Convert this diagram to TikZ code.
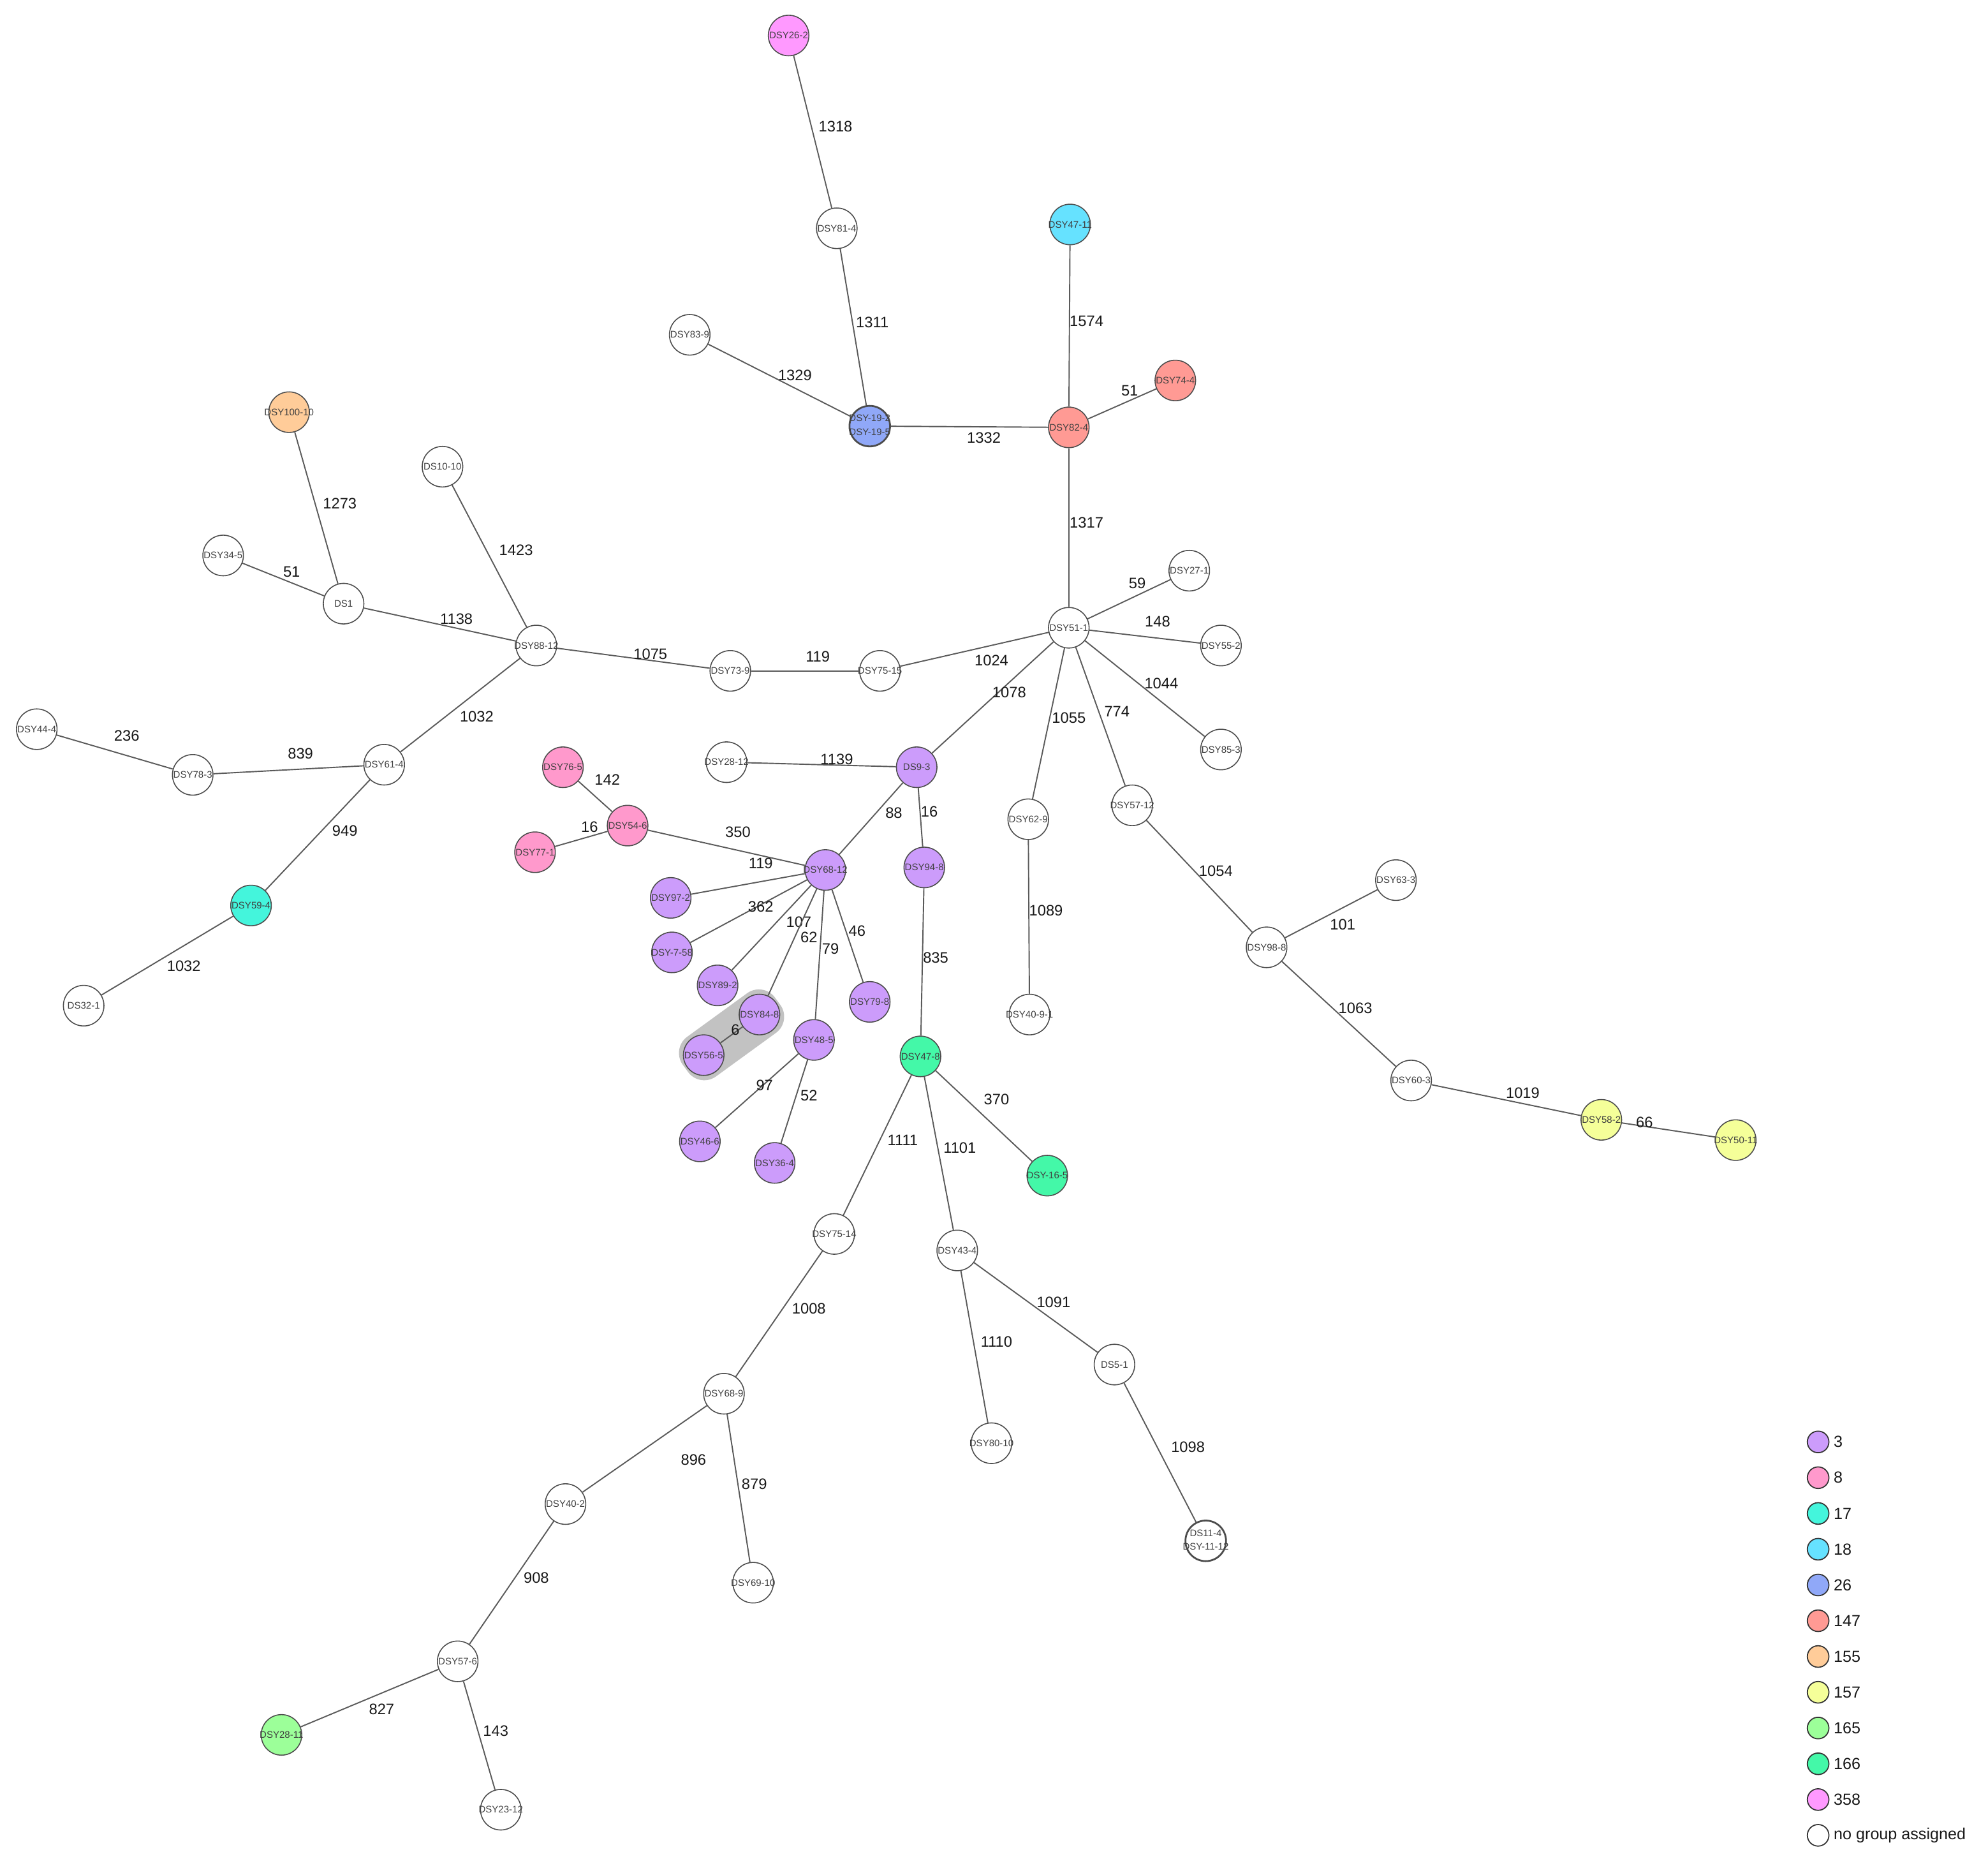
\documentclass[tikz,border=0pt]{standalone}
\usepackage{fontspec}
\setmainfont{Liberation Sans}
\pgfdeclarelayer{bg}
\pgfsetlayers{bg,main}
\definecolor{c3}{HTML}{CC9CFB}
\definecolor{c8}{HTML}{FF99CC}
\definecolor{c17}{HTML}{44F5DC}
\definecolor{c18}{HTML}{66E2FF}
\definecolor{c26}{HTML}{90A8F8}
\definecolor{c147}{HTML}{FF9A94}
\definecolor{c155}{HTML}{FFCC99}
\definecolor{c157}{HTML}{F5FF99}
\definecolor{c165}{HTML}{9CFF99}
\definecolor{c166}{HTML}{44F8A8}
\definecolor{c358}{HTML}{FF99FF}
\definecolor{cnone}{HTML}{FFFFFF}
\definecolor{lnc}{HTML}{5A5A5A}
\definecolor{bandc}{HTML}{C2C2C2}
\tikzset{
  nd/.style={circle, draw=black!70, line width=0.45pt, minimum size=0.64cm, inner sep=0pt,
    font=\fontsize{4.3}{4.9}\selectfont, text=black!75},
  elab/.style={font=\fontsize{6.8}{7}\selectfont, inner sep=0pt, text=black!90},
  edgeln/.style={draw=lnc, line width=0.55pt},
  legc/.style={circle, draw=black!80, line width=0.5pt, minimum size=0.34cm, inner sep=0pt},
  legt/.style={font=\fontsize{7.2}{8}\selectfont, inner sep=0pt, anchor=west, text=black!90},
  hiband/.style={fill=bandc, draw=none, rectangle, rounded corners=9pt, minimum width=1.8cm,
    minimum height=22pt, inner sep=0pt, rotate=36},
}
\newcommand{\twolines}[2]{\makebox[0pt]{\begin{tabular}{@{}c@{}}#1\\[1.2pt]#2\end{tabular}}}
\begin{document}
\begin{tikzpicture}[x=0.02cm, y=-0.02cm]
\useasboundingbox (0,0) rectangle (1568,1471);
% nodes
\foreach \n/\x/\y/\c/\t in {
 y262/622/28/c358/DSY26-2,
 y814/660/180/cnone/DSY81-4,
 y839/544/264/cnone/DSY83-9,
 y4711/844/177/c18/DSY47-11,
 y744/927/300/c147/DSY74-4,
 y824/843/337/c147/DSY82-4,
 y10010/228/325/c155/DSY100-10,
 s1010/349/368/cnone/DS10-10,
 y345/176/438/cnone/DSY34-5,
 s1/271/476/cnone/DS1,
 y8812/423/509/cnone/DSY88-12,
 y739/576/529/cnone/DSY73-9,
 y7515/694/529/cnone/DSY75-15,
 y511/843/495/cnone/DSY51-1,
 y271/938/450/cnone/DSY27-1,
 y552/963/509/cnone/DSY55-2,
 y853/963/591/cnone/DSY85-3,
 y444/29/575/cnone/DSY44-4,
 y783/152/611/cnone/DSY78-3,
 y614/303/603/cnone/DSY61-4,
 y594/198/714/c17/DSY59-4,
 s321/66/793/cnone/DS32-1,
 y765/444/605/c8/DSY76-5,
 y546/495/651/c8/DSY54-6,
 y771/422/672/c8/DSY77-1,
 y2812/573/601/cnone/DSY28-12,
 s93/723/605/c3/DS9-3,
 y6812/651/686/c3/DSY68-12,
 y948/729/684/c3/DSY94-8,
 y972/529/708/c3/DSY97-2,
 y758/530/751/c3/DSY-7-58,
 y892/566/777/c3/DSY89-2,
 y848/599/800/c3/DSY84-8,
 y565/555/832/c3/DSY56-5,
 y485/642/820/c3/DSY48-5,
 y798/686/790/c3/DSY79-8,
 y466/552/900/c3/DSY46-6,
 y364/611/917/c3/DSY36-4,
 y478/726/833/c166/DSY47-8,
 y165/826/927/c166/DSY-16-5,
 y629/811/646/cnone/DSY62-9,
 y4091/812/800/cnone/DSY40-9-1,
 y5712/893/635/cnone/DSY57-12,
 y633/1101/694/cnone/DSY63-3,
 y988/999/747/cnone/DSY98-8,
 y603/1113/852/cnone/DSY60-3,
 y582/1263/883/c157/DSY58-2,
 y5011/1369/899/c157/DSY50-11,
 y7514/658/973/cnone/DSY75-14,
 y434/755/986/cnone/DSY43-4,
 s51/879/1076/cnone/DS5-1,
 y8010/782/1138/cnone/DSY80-10,
 y689/571/1099/cnone/DSY68-9,
 y402/446/1186/cnone/DSY40-2,
 y6910/594/1248/cnone/DSY69-10,
 y576/361/1310/cnone/DSY57-6,
 y2811/222/1368/c165/DSY28-11,
 y2312/395/1427/cnone/DSY23-12}
 { \node[nd, fill=\c] (\n) at (\x,\y) {\makebox[0pt]{\t}}; }
\node[nd, fill=c26, line width=0.8pt] (y19) at (686,336) {\twolines{DSY-19-2}{DSY-19-5}};
\node[nd, fill=white, line width=0.8pt] (s114) at (951,1215) {\twolines{DS11-4}{DSY-11-12}};
% highlight band
\begin{pgfonlayer}{bg}
\node[hiband] (band) at (577,816) {};
\end{pgfonlayer}
% edges with labels
\foreach \a/\b/\l/\x/\y in {
 y262/y814/1318/659/100,
 y814/y19/1311/688/254,
 y839/y19/1329/627/296,
 y19/y824/1332/776/345,
 y4711/y824/1574/857/253,
 y824/y744/51/891/308,
 y824/y511/1317/857/412,
 y511/y271/59/897/460,
 y511/y552/148/913/490,
 y511/y853/1044/916/539,
 y511/y5712/774/881/561,
 y511/y629/1055/843/566,
 y511/s93/1078/796/546,
 y511/y7515/1024/782/521,
 y7515/y739/119/645/518,
 y739/y8812/1075/513/516,
 y8812/s1/1138/360/488,
 s1/y345/51/230/451,
 s1/y10010/1273/268/397,
 y8812/s1010/1423/407/434,
 y8812/y614/1032/376/565,
 y614/y783/839/237/594,
 y783/y444/236/100/580,
 y614/y594/949/272/655,
 y594/s321/1032/145/762,
 y765/y546/142/479/615,
 y771/y546/16/465/652,
 y546/y6812/350/582/656,
 y2812/s93/1139/660/599,
 s93/y6812/88/705/641,
 s93/y948/16/733/640,
 y6812/y972/119/600/681,
 y6812/y758/362/600/715,
 y6812/y892/107/630/727,
 y6812/y848/62/638/739,
 y6812/y485/79/655/748,
 y6812/y798/46/676/734,
 y848/y565/6/580/812,
 y485/y466/97/603/856,
 y485/y364/52/638/864,
 y948/y478/835/738/755,
 y478/y165/370/786/867,
 y478/y7514/1111/712/899,
 y478/y434/1101/757/905,
 y7514/y689/1008/638/1032,
 y434/s51/1091/831/1027,
 y434/y8010/1110/786/1058,
 s51/s114/1098/937/1141,
 y689/y402/896/547/1151,
 y689/y6910/879/595/1170,
 y402/y576/908/423/1244,
 y576/y2811/827/301/1348,
 y576/y2312/143/391/1365,
 y629/y4091/1089/825/718,
 y5712/y988/1054/959/687,
 y988/y633/101/1059/729,
 y988/y603/1063/1069/795,
 y603/y582/1019/1201/862,
 y582/y5011/66/1297/885}
 { \draw[edgeln] (\a) -- (\b); \node[elab] (l\a\b) at (\x,\y) {\l}; }
% legend
\foreach \i/\c/\t in {0/c3/3, 1/c8/8, 2/c17/17, 3/c18/18, 4/c26/26, 5/c147/147,
  6/c155/155, 7/c157/157, 8/c165/165, 9/c166/166, 10/c358/358, 11/cnone/no group assigned}
 { \node[legc, fill=\c] (lg\i) at (1434, {1137+28.2*\i}) {};
   \node[legt] (lt\i) at (1446, {1137+28.2*\i}) {\t}; }
\end{tikzpicture}
\end{document}
